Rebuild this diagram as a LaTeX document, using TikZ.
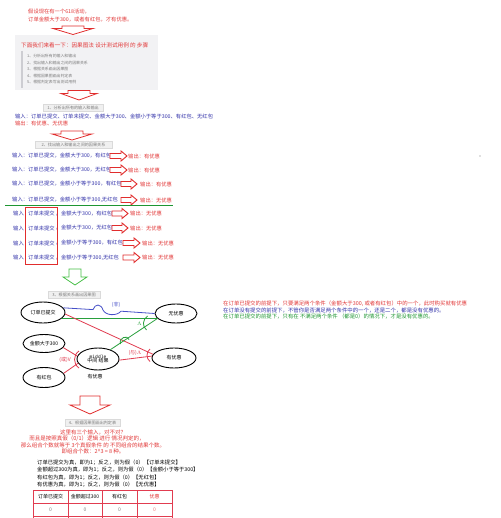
\documentclass[tikz,border=0pt]{standalone}
\usepackage{fontspec}
\setmainfont{Noto Sans CJK SC}
\setmonofont{Liberation Mono}
\usetikzlibrary{shapes.geometric}
\definecolor{myred}{RGB}{226,56,56}
\definecolor{myblue}{RGB}{52,52,170}
\definecolor{mygreen}{RGB}{30,150,50}
\definecolor{boxfill}{RGB}{242,242,244}
\definecolor{barcol}{RGB}{205,205,210}
\definecolor{capfill}{RGB}{240,240,240}
\definecolor{capline}{RGB}{218,218,218}
\definecolor{graytxt}{RGB}{125,125,125}
\definecolor{lblue}{RGB}{70,80,200}
\definecolor{lgreen}{RGB}{40,160,60}
\definecolor{lred}{RGB}{225,60,80}
\definecolor{arrred}{RGB}{225,45,45}
\definecolor{arrgreen}{RGB}{70,190,70}
\newcommand{\fs}[1]{\fontsize{#1}{#1}\selectfont}
\newcommand{\darr}[7]{%
\draw[#7, line width=0.8pt, fill=white, line join=miter] ({#1-#5},#2) -- ({#1+#5},#2) -- ({#1+#5},#3) -- ({#1+#6},#3) -- (#1,#4) -- ({#1-#6},#3) -- ({#1-#5},#3) -- cycle;}
\newcommand{\rarr}[3]{%
\draw[arrred, line width=0.9pt, fill=white, line join=miter] (#1,{#3-2.5}) -- ({#2-6},{#3-2.5}) -- ({#2-6},{#3-5}) -- (#2,#3) -- ({#2-6},{#3+5}) -- ({#2-6},{#3+2.5}) -- (#1,{#3+2.5}) -- cycle;}
\begin{document}
\begin{tikzpicture}[x=1pt,y=-1pt,
  txt/.style={inner sep=0, anchor=west, font=\fs{5.3}},
  rt/.style={txt, text=myred},
  bt/.style={txt, text=myblue},
  kt/.style={txt, text=black},
  capbox/.style={draw=capline, fill=capfill, inner sep=0, minimum height=6.5pt, font=\fs{4.1}, text=graytxt},
  item/.style={inner sep=0, anchor=west, font=\fs{3.9}, text=graytxt},
  ell/.style={ellipse, draw=black, line width=0.9pt, inner sep=0, font=\fs{5}},
  gl/.style={lgreen, line width=0.8pt},
  bl/.style={lblue, line width=0.8pt},
  rl/.style={lred, line width=0.8pt},
  tab/.style={lred, line width=0.8pt},
  cell/.style={inner sep=0, font=\fs{5}}
]
\useasboundingbox (0,0) rectangle (500,518);
\fill[white] (0,0) rectangle (500,518);

% top text
\node[rt] (t1) at (28,12) {假设现在有一个618活动，};
\node[rt] (t2) at (28,20) {订单金额大于300，或者有红包，才有优惠。};
\darr{73}{26}{28.5}{34.5}{11}{20}{arrred}

% gray box
\fill[boxfill] (15,35) rectangle (158,90);
\draw[barcol, line width=1.2pt] (22,51) -- (22,88);
\node[rt, font=\fs{5.6}] (bt) at (21,45) {下面我们来看一下：因果图法 设计测试用例 的 步骤};
\node[item] (i1) at (27,56.5) {1、分析出所有的输入和输出};
\node[item] (i2) at (27,63) {2、找出输入和输出之间的因果关系};
\node[item] (i3) at (27,69.5) {3、根据关系画出因果图};
\node[item] (i4) at (27,76) {4、根据因果图画出判定表};
\node[item] (i5) at (27,82.5) {5、根据判定表写出测试用例};
\darr{79}{90.5}{93.5}{100}{11}{18}{arrred}

% step 1
\node[capbox, minimum width=60pt] (c1) at (73,107.5) {1、分析出所有的输入和输出};
\node[bt] (in) at (15,116.5) {输入：订单已提交、订单未提交、金额大于300、金额小于等于300、有红包、无红包};
\node[rt] (out) at (15,123.5) {输出：有优惠、无优惠};
\darr{72}{131}{134}{140}{11}{20}{arrred}

% step 2
\node[capbox, minimum width=77pt] (c2) at (73.5,144.5) {2、找出输入和输出之间的因果关系};
\node[bt] (r1) at (12,156) {输入：订单已提交，金额大于300，有红包};
\rarr{110}{127}{156}
\node[rt] (o1) at (128,156) {输出：有优惠};
\node[bt] (r2) at (12,170) {输入：订单已提交，金额大于300，无红包};
\rarr{110}{127}{170}
\node[rt] (o2) at (128,170) {输出：有优惠};
\node[bt] (r3) at (12,184) {输入：订单已提交，金额小于等于300，有红包};
\rarr{121}{137}{184}
\node[rt] (o3) at (140,184) {输出：有优惠};
\node[bt] (r4) at (12,200) {输入：订单已提交，金额小于等于300,无红包};
\rarr{121}{137}{200}
\node[rt] (o4) at (140,200) {输出：无优惠};
\draw[mygreen, line width=0.8pt] (5,205.5) -- (173,205.5);

\node[bt] (r5a) at (13,213.5) {输入};
\node[bt] (r5b) at (28,213.5) {订单未提交};
\node[bt] (r5c) at (55.5,213.5) {，金额大于300，有红包};
\rarr{112}{128}{213.5}
\node[rt] (o5) at (130,213.5) {输出：无优惠};
\node[bt] (r6a) at (13,228) {输入};
\node[bt] (r6b) at (28,228) {订单未提交};
\node[bt] (r6c) at (55.5,228) {，金额大于300，无红包};
\rarr{112}{128}{228}
\node[rt] (o6) at (130,228) {输出：无优惠};
\node[bt] (r7a) at (13,243) {输入};
\node[bt] (r7b) at (28,243) {订单未提交};
\node[bt] (r7c) at (55.5,243) {，金额小于等于300，有红包};
\rarr{123}{140}{243}
\node[rt] (o7) at (142,243) {输出：无优惠};
\node[bt] (r8a) at (13,257.5) {输入};
\node[bt] (r8b) at (28,257.5) {订单未提交};
\node[bt] (r8c) at (55.5,257.5) {，金额小于等于300,无红包};
\rarr{123}{140}{257.5}
\node[rt] (o8) at (142,257.5) {输出：无优惠};
\draw[arrred, line width=0.8pt] (25,207) rectangle (57,264);

\fill[graytxt] (480,156) circle (0.6);

\darr{75}{269}{277}{285}{6}{12}{arrgreen}

% step 3
\node[capbox, minimum width=52pt] (c3) at (74,294.5) {3、根据关系画出因果图};
\node[ell, minimum width=44pt, minimum height=21pt] (n1) at (43,312.5) {订单已提交};
\node[ell, minimum width=42pt, minimum height=18pt] (n2) at (44,343.5) {金额大于300};
\node[ell, minimum width=42pt, minimum height=20pt] (n3) at (44,377.5) {有红包};
\node[ell, minimum width=42pt, minimum height=22pt, align=center] (mid) at (98,359) {{\ttfamily\fs{4.6}middle}\\[-0.3pt]中间 结果};
\node[ell, minimum width=42pt, minimum height=19pt] (wy) at (176,313.5) {无优惠};
\node[ell, minimum width=44pt, minimum height=20pt] (hy) at (174,358) {有优惠};
\node[cell] (mlab) at (95,376.5) {有优惠};

\draw[bl] (n1.13) -- (93,309.6) .. controls (95,303.5) and (101,303.5) .. (103,310) .. controls (106,316) and (117,316) .. (121,311.2) -- (wy.180);
\node[cell, text=lblue] (fei) at (116,305) {(非)};
\draw[gl] (n1.-18) -- (wy.-165);
\draw[rl] (n1.-4) -- (hy.170);
\draw[gl] (mid.37) -- (wy.-165);
\draw[gl] (120.5,344) .. controls (118.5,337) and (128,335) .. (129,339.5);
\draw[gl] (147.5,316) .. controls (142.5,320) and (142,326) .. (146.5,330);
\node[cell, text=lgreen] (andg) at (139.5,324) {$\Lambda$};
\draw[rl] (mid.-3) -- (hy.175);
\draw[rl] (150,349) .. controls (146,352) and (146,358.5) .. (150,361.5);
\node[cell, text=lred] (yu) at (135,352.5) {(与)$\Lambda$};
\draw[rl] (n2.-12) -- (mid.172);
\draw[rl] (n3.12) -- (mid.-168);
\draw[rl] (79,351) .. controls (73,355) and (73,364) .. (79,368);
\node[cell, text=lred] (huo) at (65,360) {(或)V};

% right text
\node[rt, font=\fs{5.4}] (x1) at (223,303.5) {在订单已提交的前提下，只要满足两个条件（金额大于300, 或者有红包）中的一个，此时购买就有优惠};
\node[bt, font=\fs{5.4}] (x2) at (223,310) {在订单没有提交的前提下，不管你是否满足两个条件中的一个，还是二个，都是没有优惠的。};
\node[txt, text=mygreen, font=\fs{5.4}] (x3) at (223,316.5) {在订单已提交的前提下，只有在 不满足两个条件 （都是0）的情况下，才是没有优惠的。};

% step 4
\darr{90}{396}{405}{414}{10}{20}{arrred}
\node[capbox, minimum width=55pt] (c4) at (92.5,422.5) {4、根据因果图画出判定表};
\node[cell, text=myred, font=\fs{5.5}] (q1) at (93,432) {这里有三个输入，对不对？};
\node[cell, text=myred, font=\fs{5.5}] (q2) at (87,438.5) {而且是按照真假（0/1）逻辑 进行 情况判定的，};
\node[cell, text=myred, font=\fs{5.5}] (q3) at (93,445) {那么组合个数就等于 3个真假条件 的 不同组合的结果个数。};
\node[cell, text=myred, font=\fs{5.5}] (q4) at (93,451.5) {即组合个数：2\textasciicircum 3 = 8 种。};

\node[kt] (k1) at (37,463) {订单已提交为真，即为1；反之，则为假（0）【订单未提交】};
\node[kt] (k2) at (37,470) {金额超过300为真，即为1；反之，则为假（0）【金额小于等于300】};
\node[kt] (k3) at (37,477.5) {有红包为真，即为1；反之，则为假（0）【无红包】};
\node[kt] (k4) at (37,485) {有优惠为真，即为1；反之，则为假（0）【无优惠】};

% table
\draw[tab] (33,520) -- (33,490) -- (172,490) -- (172,520);
\draw[tab] (33,503) -- (172,503);
\draw[tab] (33,516) -- (172,516);
\foreach \xx in {68,102,137} \draw[tab] (\xx,490) -- (\xx,520);
\node[cell] (h1) at (50.5,496.5) {订单已提交};
\node[cell] (h2) at (85,496.5) {金额超过300};
\node[cell] (h3) at (119.5,496.5) {有红包};
\node[cell, text=myred] (h4) at (154.5,496.5) {优惠};
\node[cell, text=graytxt] (v1) at (50.5,509.5) {0};
\node[cell, text=graytxt] (v2) at (85,509.5) {0};
\node[cell, text=graytxt] (v3) at (119.5,509.5) {0};
\node[cell, text=myred!70] (v4) at (154.5,509.5) {0};
\end{tikzpicture}
\end{document}
